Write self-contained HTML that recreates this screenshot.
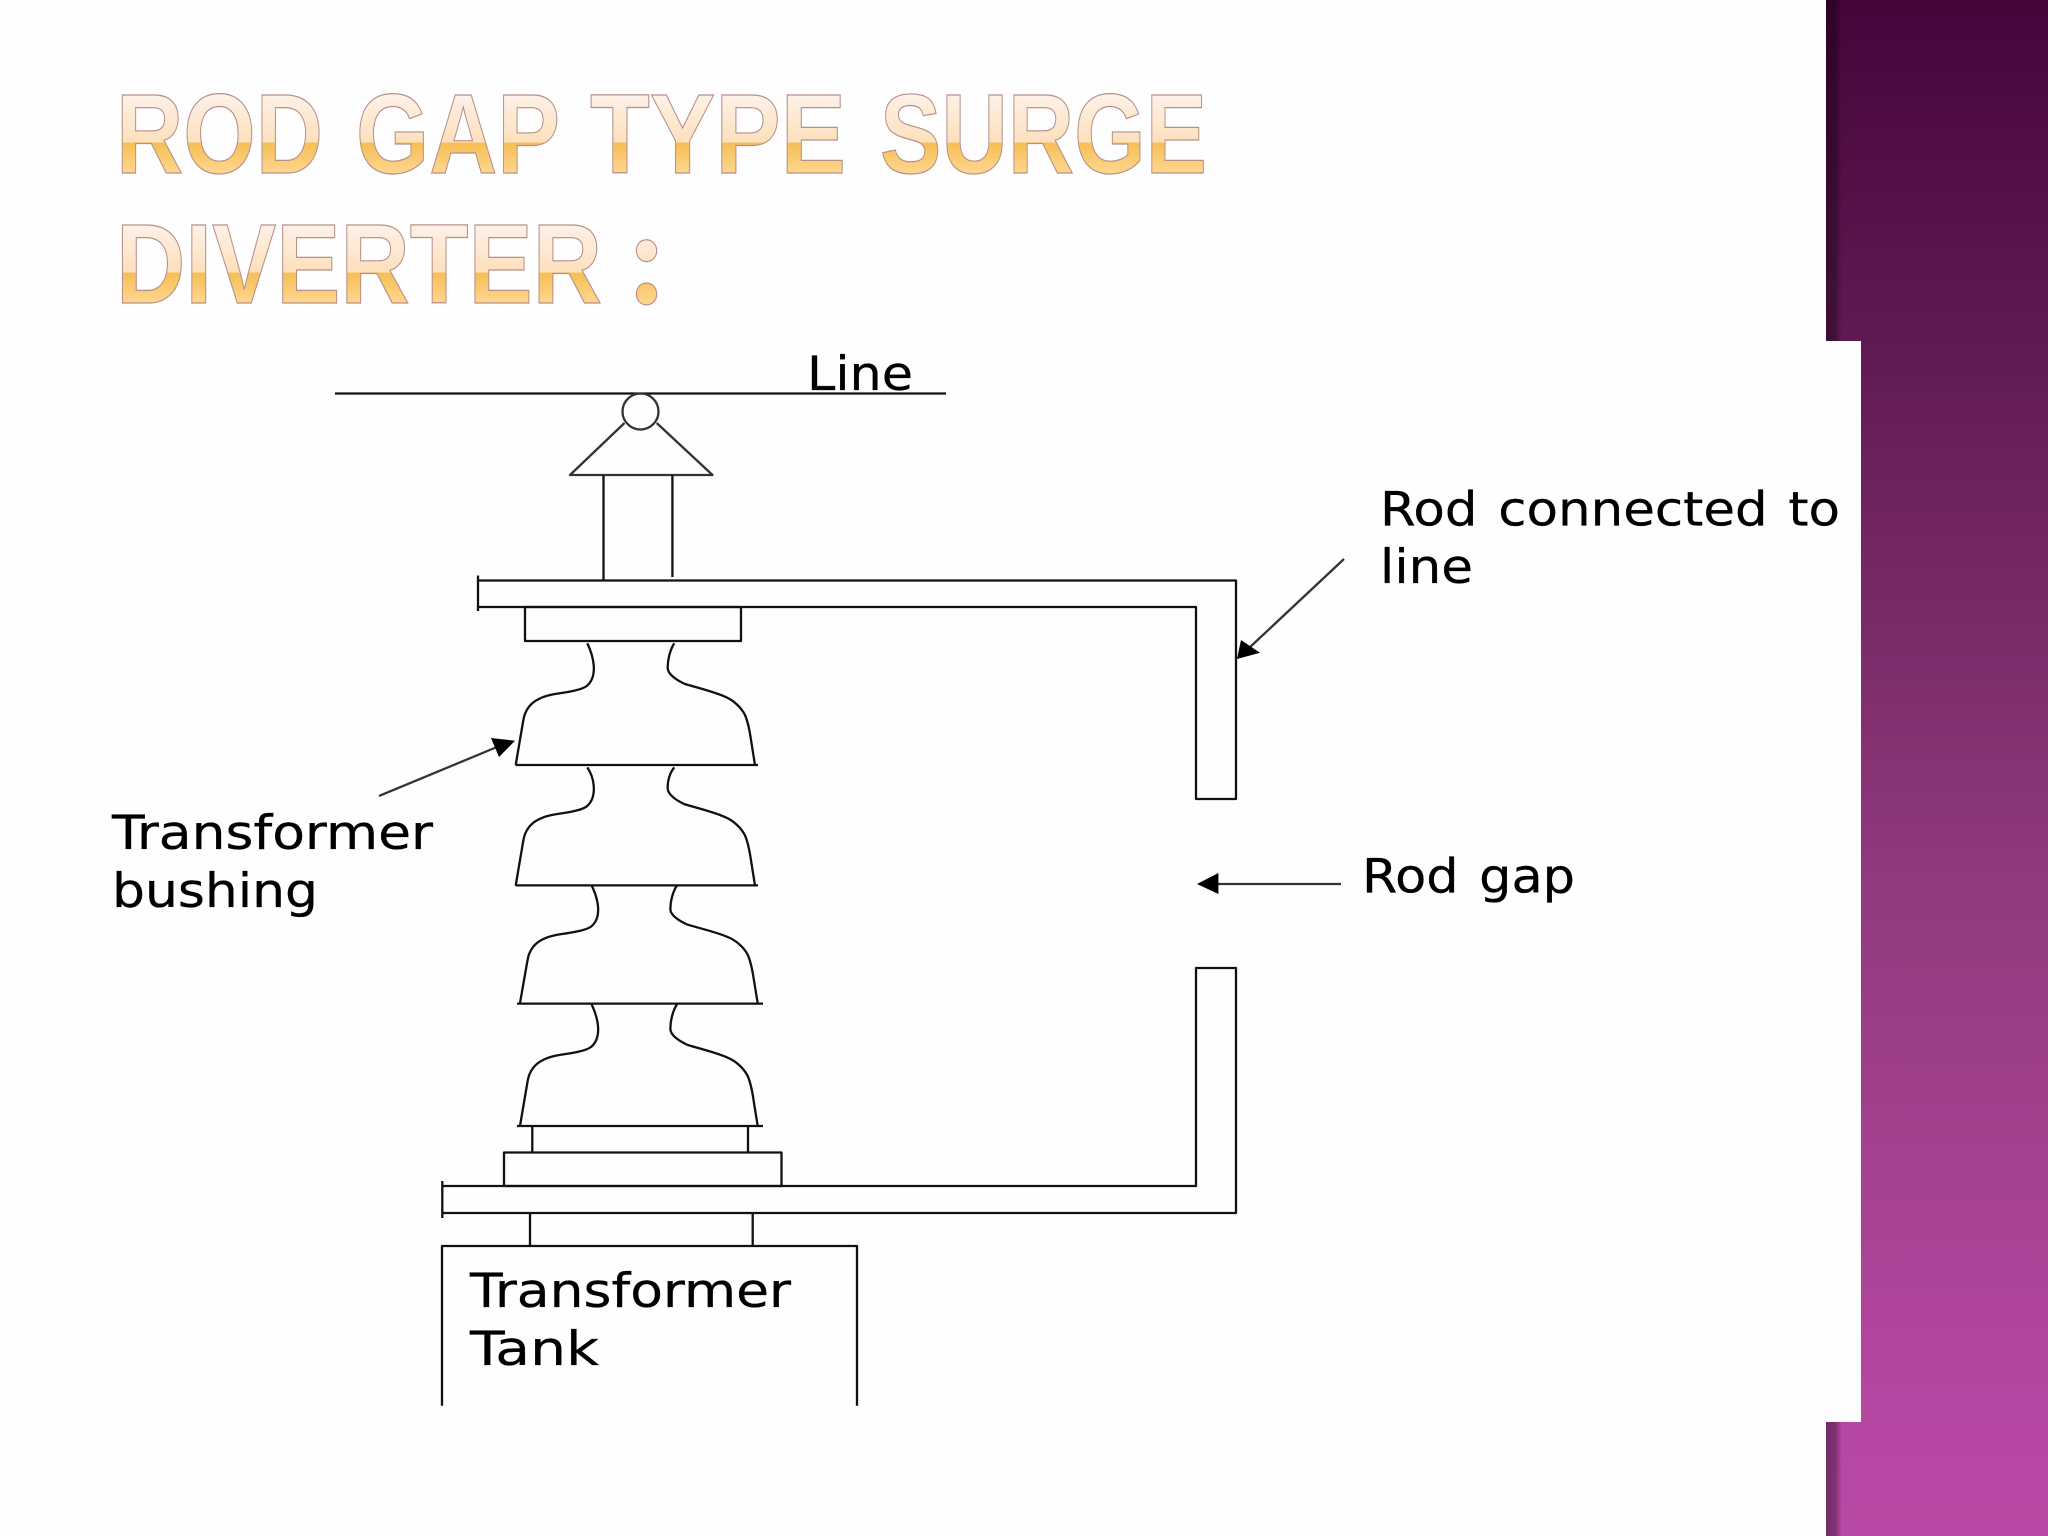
<!DOCTYPE html>
<html><head><meta charset="utf-8"><title>Rod Gap Type Surge Diverter</title>
<style>html,body{margin:0;padding:0;background:#fefefe;width:2048px;height:1536px;overflow:hidden}svg{display:block}
.t{font-family:"DejaVu Sans","Liberation Sans",sans-serif;font-size:47px;fill:#000;word-spacing:4px;stroke:#000;stroke-width:.3}
.h{font-family:"Liberation Sans",sans-serif;font-weight:bold;font-size:113px;stroke:#b89088;stroke-width:1.2}
</style></head><body>
<svg width="2048" height="1536" viewBox="0 0 2048 1536" xmlns="http://www.w3.org/2000/svg">
<defs>
<linearGradient id="bg" x1="0" y1="0" x2="0" y2="1">
<stop offset="0" stop-color="#45053a"/><stop offset=".22" stop-color="#5f1a52"/><stop offset=".58" stop-color="#923a7e"/><stop offset=".93" stop-color="#b648a3"/><stop offset="1" stop-color="#b84aa5"/>
</linearGradient>
<linearGradient id="sh" x1="0" y1="0" x2="1" y2="0">
<stop offset="0" stop-color="#000" stop-opacity=".38"/><stop offset=".6" stop-color="#000" stop-opacity=".3"/><stop offset="1" stop-color="#000" stop-opacity="0"/>
</linearGradient>
<linearGradient id="g1" gradientUnits="userSpaceOnUse" x1="0" y1="95" x2="0" y2="173">
<stop offset="0" stop-color="#fdf1e8"/><stop offset=".6" stop-color="#fde0bc"/><stop offset=".62" stop-color="#f6bf55"/><stop offset="1" stop-color="#fed690"/>
</linearGradient>
<linearGradient id="g2" gradientUnits="userSpaceOnUse" x1="0" y1="225" x2="0" y2="303">
<stop offset="0" stop-color="#fdf1e8"/><stop offset=".6" stop-color="#fde0bc"/><stop offset=".62" stop-color="#f6bf55"/><stop offset="1" stop-color="#fed690"/>
</linearGradient>
</defs>
<rect width="2048" height="1536" fill="#fefefe"/>
<path d="M1826 0H2048V1536H1826V1422H1861V341H1826Z" fill="url(#bg)"/>
<rect x="1826" y="0" width="16" height="341" fill="url(#sh)"/>
<rect x="1826" y="1422" width="16" height="114" fill="url(#sh)"/>

<g class="h">
<text x="116" y="173" fill="url(#g1)" textLength="207" lengthAdjust="spacingAndGlyphs">ROD</text>
<text x="356" y="173" fill="url(#g1)" textLength="204" lengthAdjust="spacingAndGlyphs">GAP</text>
<text x="590" y="173" fill="url(#g1)" textLength="256" lengthAdjust="spacingAndGlyphs">TYPE</text>
<text x="880" y="173" fill="url(#g1)" textLength="327" lengthAdjust="spacingAndGlyphs">SURGE</text>
<text x="116" y="303" fill="url(#g2)" textLength="486" lengthAdjust="spacingAndGlyphs">DIVERTER</text>
<text x="626" y="303" fill="url(#g2)" style="font-family:'Liberation Serif',serif;font-size:135px" textLength="42" lengthAdjust="spacingAndGlyphs">:</text>
</g>

<g fill="none" stroke="#111" stroke-width="2.3" stroke-linejoin="round">
<path d="M335 393.5H946"/>
<circle cx="640.5" cy="411.5" r="18" stroke="#333"/>
<path d="M624.5 423L570 475H712.5L656.7 423" stroke="#333"/>
<path d="M603.5 475V580M672.4 475V577"/>
<!-- upper rod -->
<path d="M478 575.5V611M478 580.5H1236V799H1196V607H478"/>
<rect x="525" y="607" width="216" height="34"/>
<!-- insulator 1 -->
<path d="M587.3 643.3C590 649 593 657 593.7 665C594.2 671 594 680 586.7 686C582 689.5 572 691.5 555 694C546 695.5 535 699 529 706.7C525 712 524 716 523 722L515.7 765"/>
<path d="M674.3 643.3C670 650 667.5 660 667.7 668.3C668 674 676 680 685 684C695 687 715 692 725 696.7C733 700 741 707 745 715C748 722 750 733 751 740L755 765"/>
<path d="M515.5 765H758"/>
<!-- insulator 2 -->
<g transform="translate(0 120.4)">
<path d="M587.3 647C590 651 593 657 593.7 665C594.2 671 594 680 586.7 686C582 689.5 572 691.5 555 694C546 695.5 535 699 529 706.7C525 712 524 716 523 722L515.7 765"/>
<path d="M674.3 647C670 652 667.5 660 667.7 668.3C668 674 676 680 685 684C695 687 715 692 725 696.7C733 700 741 707 745 715C748 722 750 733 751 740L755 765"/>
<path d="M515.5 765H758"/>
</g>
<!-- insulator 3 -->
<path transform="matrix(1 0 0 .967 4.3 263.3)" d="M587.3 643.3C590 649 593 657 593.7 665C594.2 671 594 680 586.7 686C582 689.5 572 691.5 555 694C546 695.5 535 699 529 706.7C525 712 524 716 523 722L515.7 765"/>
<path transform="matrix(1 0 0 .967 2.7 263.3)" d="M674.3 643.3C670 650 667.5 660 667.7 668.3C668 674 676 680 685 684C695 687 715 692 725 696.7C733 700 741 707 745 715C748 722 750 733 751 740L755 765"/>
<path d="M517 1003.6H763"/>
<!-- insulator 4 -->
<path transform="translate(4.3 361)" d="M587.3 643.3C590 649 593 657 593.7 665C594.2 671 594 680 586.7 686C582 689.5 572 691.5 555 694C546 695.5 535 699 529 706.7C525 712 524 716 523 722L515.7 765"/>
<path transform="translate(2.7 361)" d="M674.3 643.3C670 650 667.5 660 667.7 668.3C668 674 676 680 685 684C695 687 715 692 725 696.7C733 700 741 707 745 715C748 722 750 733 751 740L755 765"/>
<path d="M517 1126H763"/>
<path d="M532.3 1126V1152.5M748 1126V1152.5"/>
<rect x="504" y="1152.5" width="277.5" height="33.5"/>
<!-- lower rod -->
<path d="M442.3 1181V1218M442.3 1186H1196V968H1236V1213H442.3"/>
<path d="M530 1213V1246M752.7 1213V1246"/>
<path d="M442 1405.7V1246H857V1405.7"/>
<!-- arrows -->
<path d="M1344 559L1248 649" stroke="#333"/>
<path d="M1341 884H1215" stroke="#333"/>
<path d="M379 796L497 747" stroke="#333"/>
</g>
<g fill="#000">
<path d="M1237 659L1241 640L1260 652.7Z"/>
<path d="M1197 884L1218.4 873V894Z"/>
<path d="M515 740.7L491 738L499 757Z"/>
</g>

<text class="t" x="807" y="390" textLength="106" lengthAdjust="spacingAndGlyphs">Line</text>
<text class="t" x="1380" y="525.5" textLength="460" lengthAdjust="spacingAndGlyphs">Rod connected to</text>
<text class="t" x="1380" y="583" textLength="93" lengthAdjust="spacingAndGlyphs">line</text>
<text class="t" x="1362" y="892.5" textLength="213" lengthAdjust="spacingAndGlyphs">Rod gap</text>
<text class="t" x="112" y="849" textLength="321" lengthAdjust="spacingAndGlyphs">Transformer</text>
<text class="t" x="112" y="907" textLength="206" lengthAdjust="spacingAndGlyphs">bushing</text>
<text class="t" x="470" y="1307" textLength="321" lengthAdjust="spacingAndGlyphs">Transformer</text>
<text class="t" x="470" y="1365" textLength="129" lengthAdjust="spacingAndGlyphs">Tank</text>
</svg>
</body></html>
